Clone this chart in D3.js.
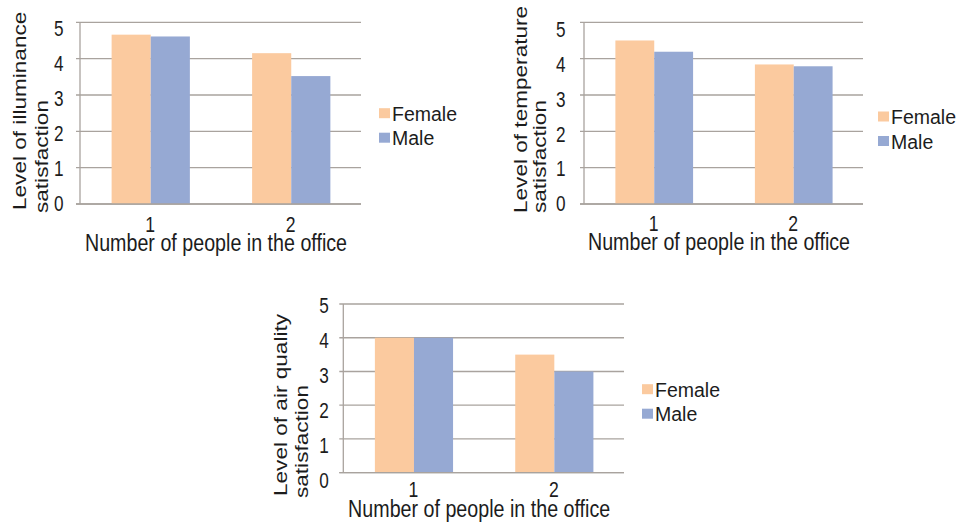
<!DOCTYPE html>
<html>
<head>
<meta charset="utf-8">
<script src="https://cdn.jsdelivr.net/npm/d3@7"></script>
<style>
  html, body { margin: 0; padding: 0; background: #ffffff; }
  svg { display: block; }
  text { font-family: "Liberation Sans", Arial, Helvetica, sans-serif; fill: #1c1c1c; }
</style>
</head>
<body>
<svg id="chart" width="963" height="525"></svg>
<script>
// Categories and series
const categories = ["1", "2"];
const series = ["Female", "Male"];
const yTicks = [0, 1, 2, 3, 4, 5];

// Mean satisfaction by number of people in the office
const illuminanceFemale = [4.66, 4.15];
const illuminanceMale = [4.61, 3.52];
const temperatureFemale = [4.50, 3.84];
const temperatureMale = [4.19, 3.79];
const airFemale = [4.0, 3.5];
const airMale = [4.0, 3.0];

const xAxisTitle = "Number of people in the office";
const colors = { Female: "#fbca9f", Male: "#96a9d3" };
const gridColor = "#a9a39e";

// Panel placement
const panels = [
  { title: ["Level of illuminance", "satisfaction"], values: [illuminanceFemale, illuminanceMale],
    x0: 80, x1: 361, yTop: 22.3, yBottom: 204, tickGap: 16.5, lab: [-0.5, 6], catDy: 27.5, xTitleDy: 46.5,
    yTitleX: [25.5, 48], yTitleY: [210, 213], legend: { x: 392, y: 120.7 } },
  { title: ["Level of temperature", "satisfaction"], values: [temperatureFemale, temperatureMale],
    x0: 584, x1: 863, yTop: 22.3, yBottom: 204, tickGap: 18.5, lab: [-0.5, 6.5], catDy: 26.5, xTitleDy: 46,
    yTitleX: [527, 545.5], yTitleY: [213, 213], legend: { x: 891, y: 124 } },
  { title: ["Level of air quality", "satisfaction"], values: [airFemale, airMale],
    x0: 343.3, x1: 624, yTop: 304, yBottom: 472.7, tickGap: 14.5, lab: [7.3, 1.5], catDy: 24, xTitleDy: 44.5,
    yTitleX: [287, 308.3], yTitleY: [496, 498], legend: { x: 655, y: 396.7 } }
];

const svg = d3.select("#chart");
svg.append("rect").attr("width", 963).attr("height", 525).attr("fill", "#ffffff");

// Text helper with horizontal condensing
function squeezedText(g, x, y, str, size, sx, anchor, rotate) {
  return g.append("text")
    .attr("transform", `translate(${x},${y}) scale(${sx},1)` + (rotate ? " rotate(-90)" : ""))
    .attr("text-anchor", anchor)
    .attr("font-size", size)
    .text(str);
}

panels.forEach(p => {
  const g = svg.append("g");

  const y = d3.scaleLinear().domain([0, 5]).range([p.yBottom, p.yTop]);
  const yLabel = d3.scaleLinear().domain([0, 5]).range([p.yBottom + p.lab[0], p.yTop + p.lab[1]]);
  const x = d3.scaleBand().domain(categories).range([p.x0, p.x1]).padding(0);
  const bw = x.bandwidth();
  const xs = d3.scaleBand().domain(series).range([bw * 0.225, bw * 0.782]).padding(0);

  // horizontal gridlines with small outer ticks
  g.selectAll("line.grid").data(yTicks).join("line")
    .attr("class", "grid")
    .attr("x1", p.x0 - 4).attr("x2", p.x1)
    .attr("y1", d => y(d)).attr("y2", d => y(d))
    .attr("stroke", gridColor).attr("stroke-width", 1.3);

  // bars
  const rows = categories.map((c, i) => series.map((s, j) => ({ c, s, v: p.values[j][i] }))).flat();
  g.selectAll("rect.bar").data(rows).join("rect")
    .attr("class", "bar")
    .attr("x", d => x(d.c) + xs(d.s))
    .attr("width", xs.bandwidth())
    .attr("y", d => y(d.v))
    .attr("height", d => y(0) - y(d.v))
    .attr("fill", d => colors[d.s]);

  // axis lines
  g.append("line").attr("x1", p.x0).attr("x2", p.x0).attr("y1", y(5)).attr("y2", y(0))
    .attr("stroke", gridColor).attr("stroke-width", 1.3);
  g.append("line").attr("x1", p.x0 - 4).attr("x2", p.x1).attr("y1", y(0)).attr("y2", y(0))
    .attr("stroke", gridColor).attr("stroke-width", 1.3);

  // y tick labels
  yTicks.forEach(t => {
    squeezedText(g, p.x0 - p.tickGap, yLabel(t) + 7.9, String(t), 22, 0.78, "end", false);
  });

  // category labels
  categories.forEach(c => {
    squeezedText(g, x(c) + bw / 2, p.yBottom + p.catDy, c, 22, 0.8, "middle", false);
  });

  // x axis title
  squeezedText(g, (p.x0 + p.x1) / 2 - 4.5, p.yBottom + p.xTitleDy, xAxisTitle, 24, 0.82, "middle", false);

  // y axis title (two lines, start aligned)
  p.title.forEach((line, i) => {
    squeezedText(g, p.yTitleX[i], p.yTitleY[i], line, 22.6, 0.78, "start", true);
  });

  // legend
  series.forEach((s, i) => {
    const by = p.legend.y + i * 24.5;
    g.append("rect")
      .attr("x", p.legend.x - 13).attr("y", by - 12.5)
      .attr("width", 11).attr("height", 10)
      .attr("fill", colors[s]);
    g.append("text")
      .attr("x", p.legend.x).attr("y", by)
      .attr("font-size", 19.5)
      .text(s);
  });
});
</script>
</body>
</html>
